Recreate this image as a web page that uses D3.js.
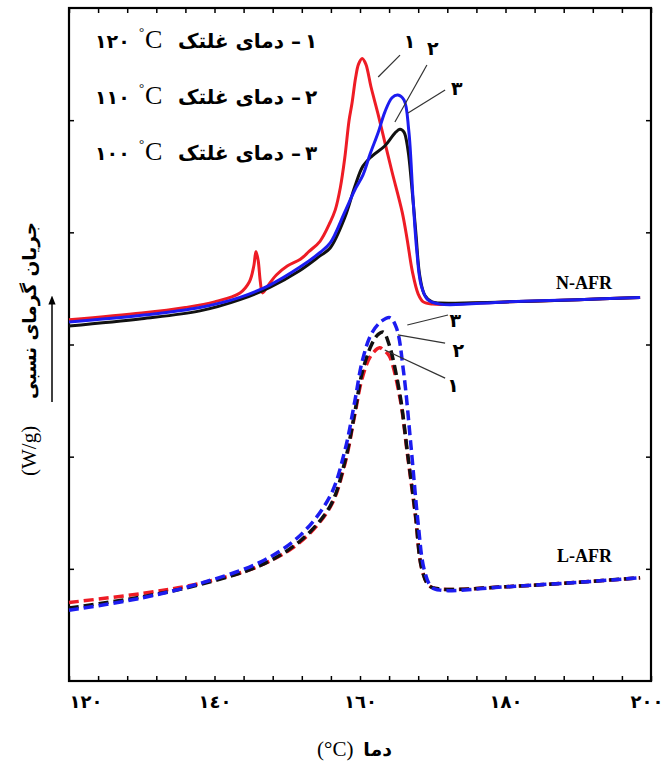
<!DOCTYPE html>
<html>
<head>
<meta charset="utf-8">
<script src="https://cdn.jsdelivr.net/npm/d3@7"></script>
<style>
  body { margin: 0; background: #fff; }
  .fa { font-family: "DejaVu Sans", sans-serif; font-weight: bold; }
  .serif { font-family: "Liberation Serif", "Times New Roman", serif; }
</style>
</head>
<body>
<svg id="chart" width="664" height="769"></svg>
<script>
// [temperature °C, relative heat flow]
// N-AFR, solid lines
const nRed = [[120,3.22],[130,3.28],[136,3.33],[140,3.38],[143.5,3.46],[144.8,3.56],[145.4,3.70],[145.7,3.83],
  [146.0,3.75],[146.3,3.56],[146.6,3.46],[147.3,3.52],[148.5,3.62],[150,3.70],[151.8,3.76],[153,3.83],[154.5,3.92],
  [155.9,4.09],[156.6,4.20],[157.3,4.40],[157.9,4.66],[158.5,5.0],[158.9,5.15],[159.4,5.38],[159.8,5.50],[160.3,5.55],
  [160.8,5.50],[161.5,5.30],[162.5,5.05],[163.5,4.78],[164.4,4.54],[165.8,4.18],[166.5,3.93],[167.2,3.65],[168,3.45],
  [168.7,3.38],[170,3.36],[180,3.38],[190,3.40],[198.5,3.42]];
const nBlue = [[120,3.20],[130,3.26],[138,3.33],[143.5,3.42],[147.6,3.53],[151.75,3.69],[154.5,3.82],[155.9,3.905],
  [157.9,4.18],[159.3,4.38],[160.4,4.51],[161.4,4.70],[162.5,4.89],[163.4,5.07],[164.4,5.20],[165.2,5.225],[166.05,5.18],
  [166.7,4.91],[167.3,4.29],[167.8,3.84],[168.4,3.53],[169.3,3.40],[171,3.36],[180,3.38],[190,3.40],[198.5,3.42]];
const nBlack = [[120,3.165],[130,3.23],[138,3.30],[143.5,3.40],[147.6,3.51],[151.75,3.66],[154.5,3.79],[155.9,3.86],
  [157.9,4.13],[159.3,4.41],[160.4,4.59],[161.65,4.68],[163.4,4.77],[164.8,4.885],[165.5,4.92],[166.05,4.894],
  [166.6,4.73],[167.1,4.42],[167.7,3.98],[168.2,3.62],[168.9,3.44],[169.9,3.38],[171,3.37],[180,3.38],[190,3.40],[198.5,3.42]];
// L-AFR, dashed lines
const lRed = [[120,0.70],[130,0.78],[138,0.87],[146.3,1.03],[151.8,1.24],[155.9,1.55],[157.9,1.93],[159.3,2.38],
  [160.3,2.70],[161.5,2.90],[162.7,2.97],[163.2,2.95],[164,2.9],[165.5,2.52],[166.5,2.03],[167.6,1.48],[168.5,1.0],
  [169.5,0.85],[171,0.82],[180,0.84],[190,0.88],[198.5,0.92]];
const lBlue = [[120,0.63],[130,0.74],[138,0.87],[146.3,1.06],[151.8,1.30],[155.9,1.65],[157.9,2.05],[159.3,2.50],
  [160.3,2.85],[161.6,3.10],[163,3.21],[164.1,3.24],[165,3.15],[166,2.75],[167,2.1],[168,1.4],[168.8,1.0],[169.8,0.84],
  [171,0.81],[180,0.84],[190,0.88],[198.5,0.92]];
const lBlack = [[120,0.65],[130,0.75],[138,0.86],[146.3,1.03],[151.8,1.25],[155.9,1.56],[157.9,1.95],[159.3,2.40],
  [160.3,2.75],[161.6,3.0],[162.5,3.09],[163.2,3.11],[164,3.0],[165.5,2.55],[166.5,2.05],[167.6,1.5],[168.5,1.0],
  [169.5,0.85],[171,0.82],[180,0.84],[190,0.88],[198.5,0.92]];

const xTicks = d3.range(120, 201, 4);
const xLabels = [120, 140, 160, 180, 200];
const yTicks = [1, 2, 3, 4, 5];
const rollTemps = ["١٢٠", "١١٠", "١٠٠"];
const rollNums = ["١", "٢", "٣"];
// curve number callouts: [label, T0, v0, T1, v1, labelT, labelV]
const topCallouts = [["١",162.5,5.385,165.5,5.58,166.8,5.706],["٢",164.8,4.984,169.2,5.492,170.0,5.643],["٣",166.6,5.064,171.7,5.269,173.3,5.287]];
const botCallouts = [["٣",166.5,3.174,172.1,3.263,173.1,3.218],["٢",165.2,3.085,171.7,3.013,173.5,2.951],["١",163.4,2.951,171.7,2.70,172.8,2.639]];

const toFa = n => String(n).replace(/\d/g, d => "٠١٢٣٤٥٦٧٨٩"[d]);
const RED = "#ee1c25", BLUE = "#1c1cf0", BLACK = "#111";

const svg = d3.select("#chart");
const x = d3.scaleLinear().domain([120, 200]).range([69, 651]);
const y = d3.scaleLinear().domain([0, 6]).range([681, 8]);

// axes (ticks pointing in, on all sides)
const ax = g => g.call(s => s.select(".domain").remove())
  .call(s => s.selectAll(".tick line").attr("stroke", "#000").attr("stroke-width", 1.5));
svg.append("g").attr("transform", "translate(0,681)")
  .call(d3.axisBottom(x).tickValues(xTicks).tickSize(-5).tickPadding(14)
    .tickFormat(d => xLabels.includes(d) ? toFa(d) : ""))
  .call(ax)
  .call(g => g.selectAll("text").attr("class", "fa").attr("font-size", 18).attr("fill", "#000"))
  .call(g => g.selectAll(".tick text").filter(d => d === 120).attr("text-anchor", "start"))
  .call(g => g.selectAll(".tick text").filter(d => d === 200).attr("text-anchor", "end").attr("dx", 12));
svg.append("g").attr("transform", "translate(0,8)")
  .call(d3.axisTop(x).tickValues(xTicks).tickSize(-5).tickFormat("")).call(ax);
svg.append("g").attr("transform", "translate(69,0)")
  .call(d3.axisLeft(y).tickValues(yTicks).tickSize(-5).tickFormat("")).call(ax);
svg.append("g").attr("transform", "translate(651,0)")
  .call(d3.axisRight(y).tickValues(yTicks).tickSize(-5).tickFormat("")).call(ax);

svg.append("rect").attr("x", 69).attr("y", 8).attr("width", 582).attr("height", 673)
  .attr("fill", "none").attr("stroke", "#000").attr("stroke-width", 2.2);

// curves
const line = d3.line().x(d => x(d[0])).y(d => y(d[1])).curve(d3.curveCatmullRom.alpha(0.5));
const series = [
  [lRed, RED, true], [lBlack, BLACK, true], [lBlue, BLUE, true],
  [nRed, RED, false], [nBlack, BLACK, false], [nBlue, BLUE, false]
];
svg.selectAll("path.curve").data(series).join("path")
  .attr("class", "curve")
  .attr("d", d => line(d[0]))
  .attr("fill", "none")
  .attr("stroke", d => d[1])
  .attr("stroke-width", d => d[2] ? 3.5 : 3)
  .attr("stroke-dasharray", d => d[2] ? "10,5" : null)
  .attr("stroke-linejoin", "round");

// callouts
const callouts = topCallouts.concat(botCallouts);
svg.selectAll("line.lead").data(callouts).join("line")
  .attr("x1", d => x(d[1])).attr("y1", d => y(d[2]))
  .attr("x2", d => x(d[3])).attr("y2", d => y(d[4]))
  .attr("stroke", "#333").attr("stroke-width", 1.2);
svg.selectAll("text.num").data(callouts).join("text")
  .attr("class", "fa num").attr("font-size", 19)
  .attr("x", d => x(d[5])).attr("y", d => y(d[6])).attr("dy", "0.35em")
  .attr("text-anchor", "middle").text(d => d[0]);

// series names
svg.append("text").attr("class", "serif").attr("font-weight", "bold").attr("font-size", 18)
  .attr("x", 612).attr("y", 289).attr("text-anchor", "end").text("N-AFR");
svg.append("text").attr("class", "serif").attr("font-weight", "bold").attr("font-size", 18)
  .attr("x", 612).attr("y", 562).attr("text-anchor", "end").text("L-AFR");

// legend rows
const rows = svg.selectAll("g.leg").data(rollTemps).join("g")
  .attr("class", "leg").attr("transform", (d, i) => `translate(0,${48 + i * 56})`);
rows.append("text").attr("class", "fa").attr("font-size", 19).attr("x", 95).text(d => d);
rows.append("text").attr("class", "serif").attr("font-size", 13).attr("x", 139).attr("y", -12).text("°");
rows.append("text").attr("class", "serif").attr("font-size", 26).attr("x", 145).text("C");
rows.append("text").attr("class", "fa").attr("font-size", 20).attr("x", 284).attr("text-anchor", "end").text("دمای غلتک");
rows.append("text").attr("class", "fa").attr("font-size", 20).attr("x", 291).text("–");
rows.append("text").attr("class", "fa").attr("font-size", 20).attr("x", 305).text((d, i) => rollNums[i]);

// y axis title
const yt = svg.append("g").attr("transform", "translate(36,0) rotate(-90)");
yt.append("text").attr("class", "fa").attr("font-size", 18.5).attr("x", -222).attr("text-anchor", "end").text("جریان گرمای نسبی");
yt.append("text").attr("class", "serif").attr("font-size", 21).attr("x", -476).text("(W/g)");
svg.append("defs").append("marker").attr("id", "arr").attr("viewBox", "0 0 10 10")
  .attr("refX", 5).attr("refY", 5).attr("markerWidth", 6).attr("markerHeight", 8).attr("orient", "auto")
  .append("path").attr("d", "M0,1 L10,5 L0,9 Z").attr("fill", "#000");
svg.append("line").attr("x1", 52).attr("y1", 402).attr("x2", 52).attr("y2", 300)
  .attr("stroke", "#000").attr("stroke-width", 1.5).attr("marker-end", "url(#arr)");

// x axis title
svg.append("text").attr("class", "serif").attr("font-size", 21).attr("x", 317).attr("y", 756).text("(°C)");
svg.append("text").attr("class", "fa").attr("font-size", 19).attr("x", 392).attr("y", 756).attr("text-anchor", "end").text("دما");
</script>
</body>
</html>
